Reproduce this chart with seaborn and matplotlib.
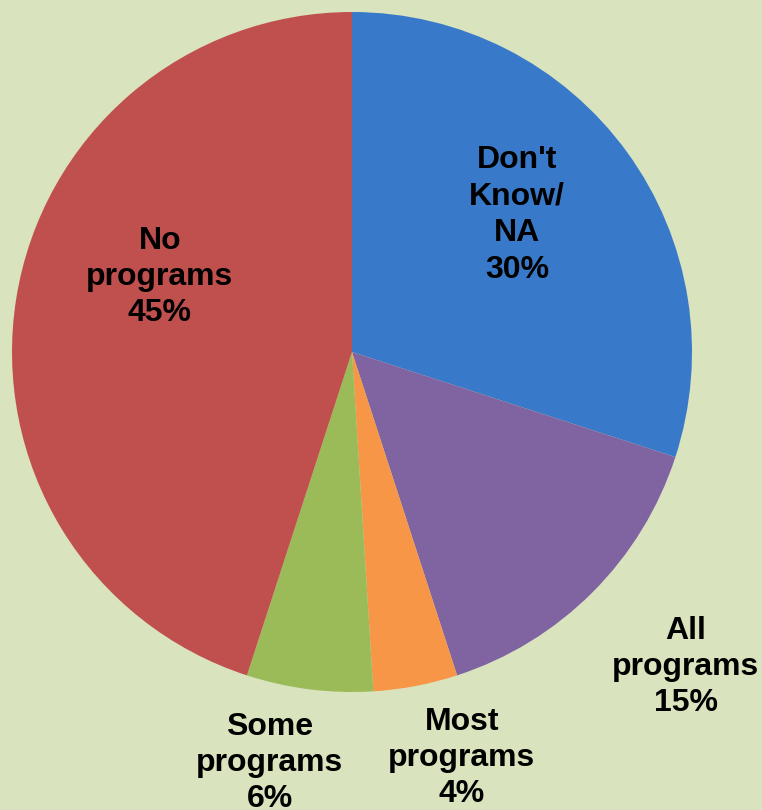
import matplotlib
matplotlib.use("Agg")
import matplotlib.pyplot as plt
import seaborn as sns

categories = ["Don't\nKnow/\nNA", "All\nprograms", "Most\nprograms", "Some\nprograms", "No\nprograms"]
shares = [30, 15, 4, 6, 45]
colors = ["#3979c9", "#8064a2", "#f79646", "#9bbb59", "#c0504d"]

# label anchor points, in figure pixels (x, y from top)
label_pos = [(517, 215), (686, 667), (462, 758), (270, 763), (160, 277)]

sns.set_style("white")
plt.rcParams['font.family'] = ['Liberation Sans', 'DejaVu Sans']

bg = "#d9e3bd"
W, H = 762, 810
fig = plt.figure(figsize=(W / 100, H / 100), dpi=100, facecolor=bg)
ax = fig.add_axes([0, 0, 1, 1])
ax.set_facecolor(bg)

cx, cy, r = 352, H - 352, 340
ax.pie(shares, colors=colors, startangle=90, counterclock=False,
       center=(cx, cy), radius=r, frame=True,
       wedgeprops=dict(linewidth=0))
ax.set_xlim(0, W)
ax.set_ylim(0, H)
ax.set_aspect("equal")
ax.axis("off")

for lab, val, (x, y) in zip(categories, shares, label_pos):
    ax.text(x, H - y, f"{lab}\n{val}%", ha="center", va="center",
            fontsize=23, fontweight="bold", color="black", linespacing=1.28)

fig.savefig("out.png", dpi=100, facecolor=bg)
